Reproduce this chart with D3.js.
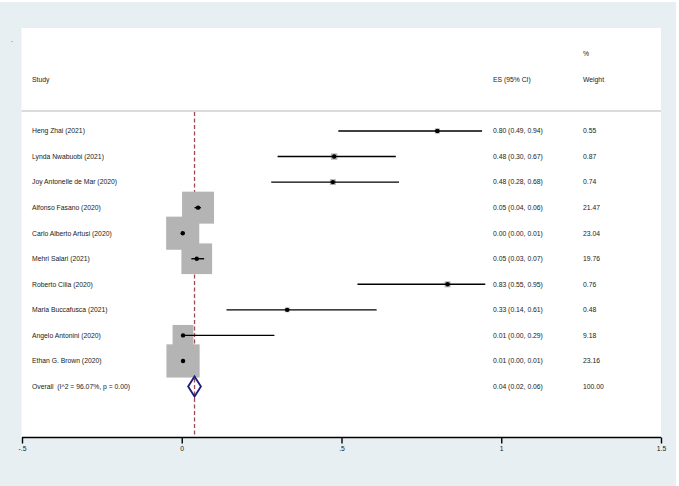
<!DOCTYPE html>
<html>
<head>
<meta charset="utf-8">
<script src="https://cdn.jsdelivr.net/npm/d3@7/dist/d3.min.js"></script>
<style>
  html, body { margin: 0; padding: 0; background: #ffffff; }
  svg { display: block; font-family: "Liberation Sans", Arial, sans-serif; }
  text { white-space: pre; }
</style>
</head>
<body>
<div id="chart"></div>
<script>
// ---- data ----
const studies = [
  "Heng Zhai (2021)", "Lynda Nwabuobi (2021)", "Joy Antonelle de Mar (2020)",
  "Alfonso Fasano (2020)", "Carlo Alberto Artusi (2020)", "Mehri Salari (2021)",
  "Roberto Cilia (2020)", "Maria Buccafusca (2021)", "Angelo Antonini (2020)",
  "Ethan G. Brown (2020)"
];
const es     = [0.80, 0.477, 0.473, 0.051, 0.003, 0.047, 0.832, 0.330, 0.004, 0.004];
const ciLow  = [0.49, 0.30, 0.28, 0.04, 0.00, 0.03, 0.55, 0.14, 0.00, 0.00];
const ciHigh = [0.94, 0.67, 0.68, 0.06, 0.01, 0.07, 0.95, 0.61, 0.29, 0.01];
const esText = [
  "0.80 (0.49, 0.94)", "0.48 (0.30, 0.67)", "0.48 (0.28, 0.68)", "0.05 (0.04, 0.06)",
  "0.00 (0.00, 0.01)", "0.05 (0.03, 0.07)", "0.83 (0.55, 0.95)", "0.33 (0.14, 0.61)",
  "0.01 (0.00, 0.29)", "0.01 (0.00, 0.01)"
];
const weights = [0.55, 0.87, 0.74, 21.47, 23.04, 19.76, 0.76, 0.48, 9.18, 23.16];
const weightText = ["0.55", "0.87", "0.74", "21.47", "23.04", "19.76", "0.76", "0.48", "9.18", "23.16"];
const overallLabel = "Overall  (I^2 = 96.07%, p = 0.00)";
const overallES = 0.04, overallLow = 0.02, overallHigh = 0.06;
const overallText = "0.04 (0.02, 0.06)";
const overallWeight = "100.00";
const xTicks = [-0.5, 0, 0.5, 1, 1.5];
const xTickLabels = ["-.5", "0", ".5", "1", "1.5"];

// ---- layout ----
const W = 679, H = 486;
const svg = d3.select("#chart").append("svg").attr("width", W).attr("height", H);

svg.append("rect").attr("x", 0).attr("y", 2).attr("width", 676).attr("height", H - 2)
  .attr("fill", "#e8eff2");
svg.append("rect").attr("x", 21.5).attr("y", 28).attr("width", 639.5).attr("height", 409.5)
  .attr("fill", "#ffffff");

const x = d3.scaleLinear().domain([-0.5, 1.5]).range([22, 661]);
const rows = studies.concat([overallLabel]);
const y = d3.scalePoint().domain(d3.range(rows.length)).range([131, 386.5]);

const fs = 6.8;
const txtCol = "#1a1a1a";
const labelX = 32, esX = 493, wX = 583;

// small mark top-left
svg.append("text").attr("x", 11).attr("y", 42).attr("font-size", fs).attr("fill", "#333").text(".");

// header
const hdr = svg.append("g").attr("font-size", fs).attr("fill", txtCol);
hdr.append("text").attr("x", labelX).attr("y", 79.5).attr("dy", "0.35em").text("Study");
hdr.append("text").attr("x", esX).attr("y", 79.5).attr("dy", "0.35em").text("ES (95% CI)");
hdr.append("text").attr("x", wX).attr("y", 54).attr("dy", "0.35em").text("%");
hdr.append("text").attr("x", wX).attr("y", 79.5).attr("dy", "0.35em").text("Weight");

// divider
svg.append("line").attr("x1", 21.5).attr("x2", 661).attr("y1", 111).attr("y2", 111)
  .attr("stroke", "#b8b8b8").attr("stroke-width", 1.2);

// overall dashed reference line
svg.append("line").attr("x1", x(overallES)).attr("x2", x(overallES))
  .attr("y1", 112).attr("y2", 437)
  .attr("stroke", "#9c4b55").attr("stroke-width", 1.3).attr("stroke-dasharray", "4,2.5");

// weight boxes
const boxK = 6.9;
svg.append("g").selectAll("rect").data(studies).join("rect")
  .attr("x", (d, i) => x(es[i]) - boxK * Math.sqrt(weights[i]) / 2)
  .attr("y", (d, i) => y(i) - boxK * Math.sqrt(weights[i]) / 2)
  .attr("width", (d, i) => boxK * Math.sqrt(weights[i]))
  .attr("height", (d, i) => boxK * Math.sqrt(weights[i]))
  .attr("fill", "#b4b4b4");

// CI lines
svg.append("g").selectAll("line").data(studies).join("line")
  .attr("x1", (d, i) => x(ciLow[i])).attr("x2", (d, i) => x(ciHigh[i]))
  .attr("y1", (d, i) => y(i)).attr("y2", (d, i) => y(i))
  .attr("stroke", "#000").attr("stroke-width", 1.4);

// point estimates
svg.append("g").selectAll("circle").data(studies).join("circle")
  .attr("cx", (d, i) => x(es[i])).attr("cy", (d, i) => y(i)).attr("r", 2.2)
  .attr("fill", "#000");

// overall diamond
const oy = y(rows.length - 1);
svg.append("path")
  .attr("d", `M${x(overallLow)},${oy} L${x(overallES)},${oy - 10} L${x(overallHigh)},${oy} L${x(overallES)},${oy + 10} Z`)
  .attr("fill", "none").attr("stroke", "#1c1c7a").attr("stroke-width", 1.8);

// row texts
const rt = svg.append("g").attr("font-size", fs).attr("fill", txtCol);
rt.selectAll("text.lab").data(rows).join("text").attr("class", "lab")
  .attr("x", labelX).attr("y", (d, i) => y(i)).attr("dy", "0.35em").text(d => d);
rt.selectAll("text.es").data(esText.concat([overallText])).join("text").attr("class", "es")
  .attr("x", esX).attr("y", (d, i) => y(i)).attr("dy", "0.35em").text(d => d);
rt.selectAll("text.w").data(weightText.concat([overallWeight])).join("text").attr("class", "w")
  .attr("x", wX).attr("y", (d, i) => y(i)).attr("dy", "0.35em").text(d => d);

// x axis
const axis = d3.axisBottom(x).tickValues(xTicks)
  .tickFormat((d, i) => xTickLabels[i]).tickSize(6).tickPadding(3);
const ag = svg.append("g").attr("transform", "translate(0,437.5)").call(axis);
ag.select(".domain").attr("stroke", "#000").attr("stroke-width", 1.4)
  .attr("d", `M${x(-0.5)},0H${x(1.5)}`);
ag.selectAll(".tick line").attr("stroke", "#000").attr("stroke-width", 1.4);
ag.selectAll(".tick text").attr("font-size", fs).attr("fill", txtCol)
  .attr("font-family", "Liberation Sans, Arial, sans-serif");
</script>
</body>
</html>
